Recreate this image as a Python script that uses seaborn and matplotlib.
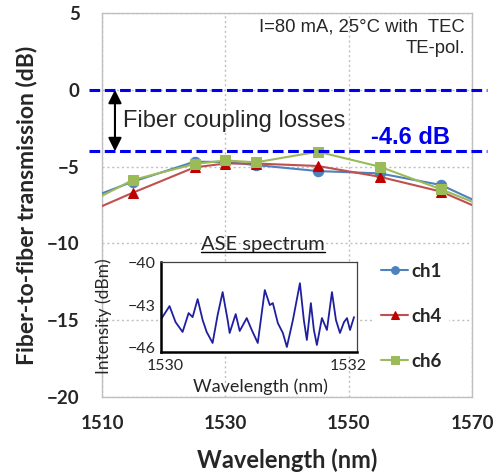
import matplotlib.pyplot as plt
import seaborn as sns

# main chart: fiber-to-fiber transmission per channel
wavelength = [1510, 1515, 1525, 1530, 1535, 1545, 1555, 1565, 1570]
ch1 = [-6.74, -5.98, -4.68, -4.70, -4.90, -5.29, -5.44, -6.20, -7.13]
ch4 = [-7.57, -6.70, -5.05, -4.80, -4.80, -4.96, -5.66, -6.63, -7.50]
ch6 = [-6.90, -5.87, -4.83, -4.60, -4.72, -4.03, -5.00, -6.48, -7.28]
ref_levels = [0.0, -4.0]

# inset: ASE spectrum
ase_wl = [1529.945, 1530.044, 1530.110, 1530.187, 1530.253, 1530.297, 1530.352,
          1530.407, 1530.451, 1530.516, 1530.571, 1530.626, 1530.681, 1530.703,
          1530.769, 1530.813, 1530.890, 1530.945, 1531.011, 1531.088, 1531.143,
          1531.176, 1531.231, 1531.286, 1531.330, 1531.396, 1531.473, 1531.516,
          1531.549, 1531.593, 1531.626, 1531.659, 1531.714, 1531.769, 1531.824,
          1531.868, 1531.912, 1531.956, 1531.989, 1532.022, 1532.066]
ase_power = [-44.05, -43.07, -44.19, -44.88, -43.56, -43.84, -42.58,
             -44.05, -44.88, -45.65, -43.70, -42.09, -44.05, -44.95,
             -43.63, -44.81, -43.91, -44.74, -45.65, -41.95, -43.00,
             -42.86, -44.26, -44.95, -45.93, -44.05, -41.47, -44.05,
             -45.44, -42.86, -44.74, -45.79, -43.91, -44.74, -42.09,
             -44.05, -44.95, -44.19, -43.91, -44.74, -43.84]

series = {'ch1': ch1, 'ch4': ch4, 'ch6': ch6}
colors = {'ch1': '#4F81BD', 'ch4': '#C0504D', 'ch6': '#9BBB59'}
mcolors = {'ch1': '#4F81BD', 'ch4': '#C00000', 'ch6': '#9BBB59'}
markers = {'ch1': 'o', 'ch4': '^', 'ch6': 's'}

sns.set_style('white')
plt.rcParams['font.family'] = ['Lato', 'DejaVu Sans']

fig = plt.figure(figsize=(5.03, 4.75), dpi=100)
ax = fig.add_axes([0.2028, 0.1642, 0.7356, 0.8084])

for name, vals in series.items():
    sns.lineplot(x=wavelength, y=vals, ax=ax, color=colors[name], lw=1.5,
                 marker=markers[name], markersize=7.5, markerfacecolor=mcolors[name],
                 markeredgecolor=mcolors[name], markevery=list(range(1, len(vals) - 1)),
                 label=name, zorder=3)

ax.set_xlim(1510, 1570)
ax.set_ylim(-20, 5)
ax.set_xticks([1510, 1530, 1550, 1570])
ax.set_yticks([5, 0, -5, -10, -15, -20])
ax.grid(True, color='#BFBFBF', linestyle=(0, (1.5, 2)), lw=1)
for s in ax.spines.values():
    s.set_color('#BFBFBF')
    s.set_linewidth(1)
ax.tick_params(axis='both', direction='out', length=5, color='#BFBFBF', width=1,
               labelsize=13.5)
ax.tick_params(axis='y', pad=11)
ax.tick_params(axis='x', pad=8)
for lab in ax.get_xticklabels() + ax.get_yticklabels():
    lab.set_fontweight('bold')
ax.set_xlabel('Wavelength (nm)', fontsize=17, fontweight='bold', labelpad=12)
ax.set_ylabel('Fiber-to-fiber transmission (dB)', fontsize=16.5, fontweight='bold',
              labelpad=7)

for lvl in ref_levels:
    ax.axhline(lvl, xmin=-0.035, xmax=1.04, color='#0000EE', lw=2.2,
               linestyle=(0, (3.5, 1.5)), clip_on=False, zorder=4)

ax.annotate('', xy=(1512.1, ref_levels[1]), xytext=(1512.1, ref_levels[0]),
            arrowprops=dict(arrowstyle='<|-|>', color='black', lw=1.5,
                            mutation_scale=20, shrinkA=0, shrinkB=0), zorder=5)
ax.text(1513.4, -2.03, 'Fiber coupling losses', fontsize=17,
        family='Liberation Sans', va='center', ha='left')
ax.text(1566.4, -3.1, '-4.6 dB', fontsize=17, fontweight='bold', color='#0000EE',
        family='Liberation Sans', va='center', ha='right')
ax.text(1568.9, 4.09, 'I=80 mA, 25°C with  TEC', fontsize=13.3,
        family='Liberation Sans', va='center', ha='right')
ax.text(1568.9, 2.72, 'TE-pol.', fontsize=13.3,
        family='Liberation Sans', va='center', ha='right')

leg = ax.legend(loc='center left', bbox_to_anchor=(0.735, 0.21), borderaxespad=0,
                frameon=True, facecolor='white', edgecolor='none', framealpha=1,
                handlelength=1.4, handletextpad=0.2, labelspacing=1.5,
                markerscale=0.75, prop={'weight': 'bold', 'size': 13.5})

# inset
axin = fig.add_axes([0.320, 0.259, 0.390, 0.189])
axin.set_facecolor('white')
sns.lineplot(x=ase_wl, y=ase_power, ax=axin, color='#1F1FA0', lw=1.3)
axin.set_xlim(1529.95, 1532.1)
axin.set_ylim(-46.28, -40)
axin.set_xticks([1530, 1532])
axin.set_yticks([-40, -43, -46])
axin.set_yticks([-41, -42, -44, -45], minor=True)
axin.tick_params(axis='both', which='both', direction='in', color='black',
                 labelsize=11.5, pad=4)
axin.tick_params(axis='y', which='major', length=5)
axin.tick_params(axis='y', which='minor', length=5)
axin.tick_params(axis='x', length=0, pad=5)
for side in ['left', 'bottom']:
    axin.spines[side].set_color('black')
    axin.spines[side].set_linewidth(1.8)
for side in ['top', 'right']:
    axin.spines[side].set_color('#404040')
    axin.spines[side].set_linewidth(0.9)
axin.set_xlabel('Wavelength (nm)', fontsize=13)
axin.xaxis.set_label_coords(0.505, -0.30)
axin.set_ylabel('Intensity (dBm)', fontsize=12.5)
axin.yaxis.set_label_coords(-0.25, 0.40)
title = axin.text(0.52, 1.10, 'ASE spectrum', transform=axin.transAxes,
                  fontsize=14.5, ha='center', va='bottom')

# underline the inset title
fig.canvas.draw()
bb = title.get_window_extent().transformed(fig.transFigure.inverted())
fig.add_artist(plt.Line2D([bb.x0, bb.x1], [bb.y0 + 0.002, bb.y0 + 0.002],
                          color='black', lw=1, transform=fig.transFigure))

fig.savefig('out.png', dpi=100)
